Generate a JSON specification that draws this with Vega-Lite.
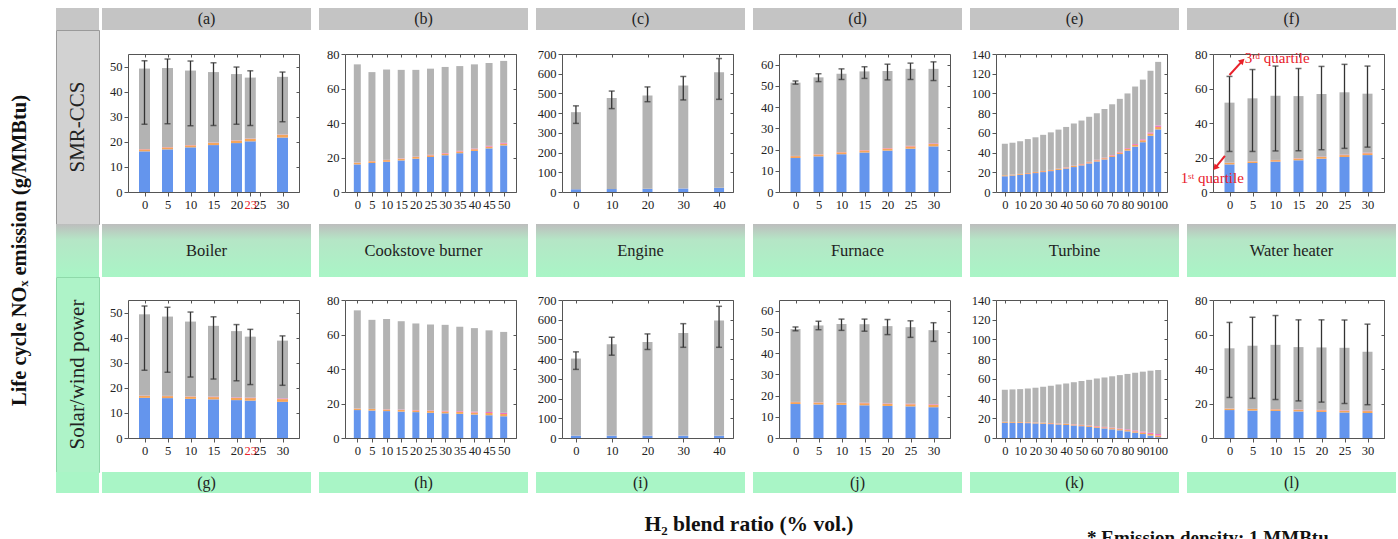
{
"$schema": "https://vega.github.io/schema/vega-lite/v6.json",
"padding": {"left": 0, "top": 8, "right": 0, "bottom": 0},
"background": "white",
"bounds": "full",
"spacing": 15,
"config": {
 "font": "Liberation Serif",
 "view": {"stroke": null, "fill": "white"},
 "axis": {"labelFont": "Liberation Serif", "labelFontSize": 12.5, "labelColor": "#222", "domainColor": "#555", "tickColor": "#555", "grid": false, "tickSize": 4, "labelPadding": 2, "titleFont": "Liberation Serif"}
},
"datasets": {
 "notes": [
  {"t": "3ʳᵈ quartile", "x": 3.3, "y": 77.5},
  {"t": "1ˢᵗ quartile", "x": -10.6, "y": 8}
 ],
 "arrows": [
  {"id": "q3", "x0": 0, "y0": 67.8, "x1": 2.8, "y1": 76},
  {"id": "q1", "x0": -1, "y0": 21, "x1": -3.1, "y1": 14}
 ],
 "bars": [
  {"p":"a","x":0,"s1":16.2,"s2":0.8,"s3":0.1,"s4":32.1,"lo":27,"hi":52.3},
  {"p":"a","x":5,"s1":17.0,"s2":0.8,"s3":0.1,"s4":31.5,"lo":27.2,"hi":53},
  {"p":"a","x":10,"s1":17.8,"s2":0.8,"s3":0.1,"s4":29.7,"lo":26.4,"hi":52.2},
  {"p":"a","x":15,"s1":18.7,"s2":0.9,"s3":0.1,"s4":28.1,"lo":26.5,"hi":51.5},
  {"p":"a","x":20,"s1":19.5,"s2":1.0,"s3":0.1,"s4":26.4,"lo":27,"hi":49.8},
  {"p":"a","x":23,"s1":20.2,"s2":1.0,"s3":0.1,"s4":24.3,"lo":26.5,"hi":48.3},
  {"p":"a","x":30,"s1":21.7,"s2":1.1,"s3":0.1,"s4":23.0,"lo":28,"hi":47.8},
  {"p":"b","x":0,"s1":16.0,"s2":1.0,"s3":0.1,"s4":56.9},
  {"p":"b","x":5,"s1":16.8,"s2":1.0,"s3":0.1,"s4":51.6},
  {"p":"b","x":10,"s1":17.5,"s2":1.0,"s3":0.15,"s4":52.35},
  {"p":"b","x":15,"s1":18.3,"s2":1.0,"s3":0.2,"s4":51.3},
  {"p":"b","x":20,"s1":19.3,"s2":1.0,"s3":0.2,"s4":50.3},
  {"p":"b","x":25,"s1":20.3,"s2":1.0,"s3":0.25,"s4":49.95},
  {"p":"b","x":30,"s1":21.3,"s2":1.0,"s3":0.3,"s4":49.9},
  {"p":"b","x":35,"s1":22.5,"s2":1.0,"s3":0.35,"s4":49.15},
  {"p":"b","x":40,"s1":23.8,"s2":1.0,"s3":0.4,"s4":48.8},
  {"p":"b","x":45,"s1":25.3,"s2":1.0,"s3":0.45,"s4":48.05},
  {"p":"b","x":50,"s1":27.0,"s2":1.0,"s3":0.5,"s4":47.5},
  {"p":"c","x":0,"s1":14,"s2":0.5,"s3":0,"s4":390.5,"lo":348,"hi":437},
  {"p":"c","x":10,"s1":15,"s2":0.5,"s3":0,"s4":461.5,"lo":423,"hi":512},
  {"p":"c","x":20,"s1":16,"s2":0.5,"s3":0,"s4":473.5,"lo":458,"hi":533},
  {"p":"c","x":30,"s1":18,"s2":0.5,"s3":0,"s4":521.5,"lo":467,"hi":586},
  {"p":"c","x":40,"s1":21,"s2":0.5,"s3":0,"s4":585.5,"lo":470,"hi":677},
  {"p":"d","x":0,"s1":16,"s2":0.9,"s3":0.1,"s4":34.5,"lo":50.8,"hi":52.3},
  {"p":"d","x":5,"s1":16.8,"s2":0.9,"s3":0.1,"s4":36.2,"lo":52,"hi":55.7},
  {"p":"d","x":10,"s1":17.8,"s2":0.9,"s3":0.1,"s4":36.9,"lo":53,"hi":58},
  {"p":"d","x":15,"s1":18.6,"s2":1.0,"s3":0.15,"s4":37.05,"lo":53.5,"hi":59},
  {"p":"d","x":20,"s1":19.5,"s2":1.0,"s3":0.2,"s4":36.3,"lo":52.8,"hi":60.2},
  {"p":"d","x":25,"s1":20.4,"s2":1.1,"s3":0.25,"s4":36.25,"lo":53,"hi":60.7},
  {"p":"d","x":30,"s1":21.5,"s2":1.1,"s3":0.3,"s4":35.1,"lo":52.5,"hi":61.3},
  {"p":"e","x":0,"s1":16,"s2":0.9,"s3":0.1,"s4":32},
  {"p":"e","x":5,"s1":16.7,"s2":0.9,"s3":0.1,"s4":32.3},
  {"p":"e","x":10,"s1":17.4,"s2":0.9,"s3":0.1,"s4":33.1},
  {"p":"e","x":15,"s1":18.2,"s2":0.9,"s3":0.15,"s4":34.45},
  {"p":"e","x":20,"s1":19.2,"s2":1,"s3":0.15,"s4":35.15},
  {"p":"e","x":25,"s1":20.2,"s2":1,"s3":0.2,"s4":36.6},
  {"p":"e","x":30,"s1":21.2,"s2":1,"s3":0.2,"s4":38.1},
  {"p":"e","x":35,"s1":22.4,"s2":1,"s3":0.25,"s4":39.65},
  {"p":"e","x":40,"s1":23.8,"s2":1,"s3":0.3,"s4":40.9},
  {"p":"e","x":45,"s1":25.3,"s2":1.1,"s3":0.3,"s4":42.8},
  {"p":"e","x":50,"s1":27,"s2":1.1,"s3":0.35,"s4":44.05},
  {"p":"e","x":55,"s1":29,"s2":1.2,"s3":0.4,"s4":45.7},
  {"p":"e","x":60,"s1":31,"s2":1.2,"s3":0.45,"s4":47.35},
  {"p":"e","x":65,"s1":33,"s2":1.3,"s3":0.5,"s4":49.4},
  {"p":"e","x":70,"s1":35.5,"s2":1.4,"s3":0.6,"s4":51.5},
  {"p":"e","x":75,"s1":38.5,"s2":1.5,"s3":0.7,"s4":53.8},
  {"p":"e","x":80,"s1":42,"s2":1.6,"s3":0.8,"s4":55.6},
  {"p":"e","x":85,"s1":46,"s2":1.8,"s3":0.9,"s4":58.3},
  {"p":"e","x":90,"s1":50.5,"s2":2,"s3":1.0,"s4":60.5},
  {"p":"e","x":95,"s1":57,"s2":2.2,"s3":1.2,"s4":62.6},
  {"p":"e","x":100,"s1":63.5,"s2":2.5,"s3":1.5,"s4":64.5},
  {"p":"f","x":0,"s1":16,"s2":0.9,"s3":0.1,"s4":34.8,"lo":23.5,"hi":67},
  {"p":"f","x":5,"s1":16.8,"s2":0.9,"s3":0.1,"s4":36.5,"lo":23.5,"hi":71},
  {"p":"f","x":10,"s1":17.6,"s2":0.9,"s3":0.1,"s4":37.2,"lo":23.8,"hi":73},
  {"p":"f","x":15,"s1":18.4,"s2":1,"s3":0.15,"s4":36.05,"lo":23.9,"hi":71.6},
  {"p":"f","x":20,"s1":19.3,"s2":1,"s3":0.2,"s4":36.3,"lo":24.5,"hi":72.8},
  {"p":"f","x":25,"s1":20.3,"s2":1.1,"s3":0.25,"s4":36.15,"lo":25.3,"hi":74},
  {"p":"f","x":30,"s1":21.4,"s2":1.1,"s3":0.3,"s4":34.2,"lo":26,"hi":73},
  {"p":"g","x":0,"s1":16,"s2":0.8,"s3":0.1,"s4":32.4,"lo":27,"hi":52.6},
  {"p":"g","x":5,"s1":15.9,"s2":0.8,"s3":0.1,"s4":31.6,"lo":26.2,"hi":52.1},
  {"p":"g","x":10,"s1":15.6,"s2":0.9,"s3":0.1,"s4":29.8,"lo":24.3,"hi":50.2},
  {"p":"g","x":15,"s1":15.4,"s2":0.9,"s3":0.2,"s4":28.2,"lo":23.5,"hi":48.3},
  {"p":"g","x":20,"s1":15.1,"s2":0.9,"s3":0.2,"s4":26.4,"lo":22.8,"hi":45.2},
  {"p":"g","x":23,"s1":14.9,"s2":1.0,"s3":0.2,"s4":24.3,"lo":21.3,"hi":43.3},
  {"p":"g","x":30,"s1":14.4,"s2":1.1,"s3":0.3,"s4":23.0,"lo":21,"hi":40.7},
  {"p":"h","x":0,"s1":16.2,"s2":0.8,"s3":0.1,"s4":56.9},
  {"p":"h","x":5,"s1":15.9,"s2":0.9,"s3":0.1,"s4":51.6},
  {"p":"h","x":10,"s1":15.6,"s2":0.9,"s3":0.15,"s4":52.35},
  {"p":"h","x":15,"s1":15.3,"s2":1,"s3":0.2,"s4":51.2},
  {"p":"h","x":20,"s1":15,"s2":1,"s3":0.25,"s4":50.15},
  {"p":"h","x":25,"s1":14.6,"s2":1.1,"s3":0.3,"s4":49.8},
  {"p":"h","x":30,"s1":14.3,"s2":1.1,"s3":0.35,"s4":49.85},
  {"p":"h","x":35,"s1":14,"s2":1.2,"s3":0.4,"s4":48.9},
  {"p":"h","x":40,"s1":13.6,"s2":1.2,"s3":0.5,"s4":48.4},
  {"p":"h","x":45,"s1":13.2,"s2":1.3,"s3":0.6,"s4":47.3},
  {"p":"h","x":50,"s1":12.6,"s2":1.3,"s3":0.7,"s4":46.9},
  {"p":"i","x":0,"s1":12,"s2":0.5,"s3":0,"s4":390.5,"lo":348,"hi":437},
  {"p":"i","x":10,"s1":12,"s2":0.5,"s3":0,"s4":462.5,"lo":420,"hi":511},
  {"p":"i","x":20,"s1":12,"s2":0.5,"s3":0,"s4":474.5,"lo":449,"hi":528},
  {"p":"i","x":30,"s1":12,"s2":0.5,"s3":0,"s4":519.5,"lo":460,"hi":580},
  {"p":"i","x":40,"s1":12,"s2":0.5,"s3":0,"s4":583.5,"lo":460,"hi":668},
  {"p":"j","x":0,"s1":16,"s2":0.9,"s3":0.1,"s4":34.3,"lo":50.5,"hi":52.3},
  {"p":"j","x":5,"s1":15.8,"s2":0.9,"s3":0.1,"s4":36.2,"lo":51,"hi":55},
  {"p":"j","x":10,"s1":15.6,"s2":0.9,"s3":0.15,"s4":37.05,"lo":50.7,"hi":56},
  {"p":"j","x":15,"s1":15.4,"s2":1,"s3":0.2,"s4":37.0,"lo":50.3,"hi":56},
  {"p":"j","x":20,"s1":15.1,"s2":1,"s3":0.2,"s4":36.4,"lo":48.7,"hi":55.8},
  {"p":"j","x":25,"s1":14.9,"s2":1,"s3":0.25,"s4":36.05,"lo":47.4,"hi":55.2},
  {"p":"j","x":30,"s1":14.5,"s2":1.1,"s3":0.3,"s4":34.9,"lo":45.5,"hi":54.3},
  {"p":"k","x":0,"s1":15.5,"s2":0.8,"s3":0.1,"s4":32.6},
  {"p":"k","x":5,"s1":15.4,"s2":0.8,"s3":0.1,"s4":33},
  {"p":"k","x":10,"s1":15.3,"s2":0.8,"s3":0.1,"s4":33.4},
  {"p":"k","x":15,"s1":15.1,"s2":0.8,"s3":0.15,"s4":34.15},
  {"p":"k","x":20,"s1":14.8,"s2":0.9,"s3":0.15,"s4":35.15},
  {"p":"k","x":25,"s1":14.5,"s2":0.9,"s3":0.2,"s4":36.4},
  {"p":"k","x":30,"s1":14.1,"s2":0.9,"s3":0.2,"s4":37.8},
  {"p":"k","x":35,"s1":13.7,"s2":0.9,"s3":0.25,"s4":39.45},
  {"p":"k","x":40,"s1":13.2,"s2":1,"s3":0.3,"s4":40.8},
  {"p":"k","x":45,"s1":12.7,"s2":1,"s3":0.3,"s4":42.6},
  {"p":"k","x":50,"s1":12,"s2":1,"s3":0.35,"s4":44.45},
  {"p":"k","x":55,"s1":11.3,"s2":1,"s3":0.4,"s4":46.3},
  {"p":"k","x":60,"s1":10.5,"s2":1.1,"s3":0.45,"s4":48.25},
  {"p":"k","x":65,"s1":9.7,"s2":1.1,"s3":0.5,"s4":50.1},
  {"p":"k","x":70,"s1":8.8,"s2":1.2,"s3":0.6,"s4":52},
  {"p":"k","x":75,"s1":7.8,"s2":1.2,"s3":0.7,"s4":54.1},
  {"p":"k","x":80,"s1":6.7,"s2":1.3,"s3":0.8,"s4":56.2},
  {"p":"k","x":85,"s1":5.4,"s2":1.4,"s3":0.9,"s4":58.5},
  {"p":"k","x":90,"s1":4,"s2":1.5,"s3":1.0,"s4":60.8},
  {"p":"k","x":95,"s1":2.5,"s2":1.6,"s3":1.2,"s4":63},
  {"p":"k","x":100,"s1":0.8,"s2":1.7,"s3":1.5,"s4":65},
  {"p":"l","x":0,"s1":16.2,"s2":0.8,"s3":0.1,"s4":34.9,"lo":23.5,"hi":67},
  {"p":"l","x":5,"s1":15.9,"s2":0.9,"s3":0.1,"s4":36.6,"lo":23,"hi":70},
  {"p":"l","x":10,"s1":15.7,"s2":0.9,"s3":0.1,"s4":37.3,"lo":22.3,"hi":71},
  {"p":"l","x":15,"s1":15.4,"s2":1,"s3":0.15,"s4":36.15,"lo":21.5,"hi":68.5},
  {"p":"l","x":20,"s1":15.1,"s2":1,"s3":0.2,"s4":36.2,"lo":20.8,"hi":68.5},
  {"p":"l","x":25,"s1":14.8,"s2":1,"s3":0.25,"s4":36.25,"lo":20,"hi":68.4},
  {"p":"l","x":30,"s1":14.5,"s2":1.1,"s3":0.3,"s4":34.1,"lo":19.3,"hi":66}
 ]
},
"hconcat": [
 {"width": 40, "height": 485, "data": {"values": [{"t": "Life cycle NOₓ emission (g/MMBtu)"}]}, "mark": {"type": "text", "angle": 270, "fontSize": 20.5, "fontWeight": "bold", "color": "#111"}, "encoding": {"text": {"field": "t"}}},
 {"hconcat": [
  {"vconcat": [
   {"width": 43, "height": 22, "view": {"fill": "#c6c6c6", "stroke": null}, "data": {"values": [{"t": ""}]}, "mark": {"type": "text"}, "encoding": {"text": {"field": "t"}}},
   {"width": 43, "height": 194, "view": {"fill": "#d2d2d2", "stroke": "#9a9a9a"}, "data": {"values": [{"t": "SMR-CCS"}]}, "mark": {"type": "text", "angle": 270, "fontSize": 21, "color": "#222"}, "encoding": {"text": {"field": "t"}}},
   {"width": 43, "height": 53, "view": {"fill": {"gradient": "linear", "x1": 0, "y1": 0, "x2": 0, "y2": 1, "stops": [{"offset": 0, "color": "#bdbdbd"}, {"offset": 0.3, "color": "#b5e6c6"}, {"offset": 1, "color": "#a9f5c6"}]}, "stroke": null}, "data": {"values": [{"t": ""}]}, "mark": {"type": "text"}, "encoding": {"text": {"field": "t"}}},
   {"width": 43, "height": 195, "view": {"fill": "#aef3c8", "stroke": "#8fd9aa"}, "data": {"values": [{"t": "Solar/wind power"}]}, "mark": {"type": "text", "angle": 270, "fontSize": 21, "color": "#222"}, "encoding": {"text": {"field": "t"}}},
   {"width": 43, "height": 21, "view": {"fill": "#a9f5c6", "stroke": null}, "data": {"values": [{"t": ""}]}, "mark": {"type": "text"}, "encoding": {"text": {"field": "t"}}}
  ], "spacing": 0, "bounds": "flush"},
  {"vconcat": [
   {"concat": [
    {"width": 209, "height": 22, "view": {"fill": "#c4c4c4", "stroke": null}, "data": {"values": [{"t": "(a)"}]}, "mark": {"type": "text", "fontSize": 16, "color": "#222"}, "encoding": {"text": {"field": "t"}}},
    {"width": 209, "height": 22, "view": {"fill": "#c4c4c4", "stroke": null}, "data": {"values": [{"t": "(b)"}]}, "mark": {"type": "text", "fontSize": 16, "color": "#222"}, "encoding": {"text": {"field": "t"}}},
    {"width": 209, "height": 22, "view": {"fill": "#c4c4c4", "stroke": null}, "data": {"values": [{"t": "(c)"}]}, "mark": {"type": "text", "fontSize": 16, "color": "#222"}, "encoding": {"text": {"field": "t"}}},
    {"width": 209, "height": 22, "view": {"fill": "#c4c4c4", "stroke": null}, "data": {"values": [{"t": "(d)"}]}, "mark": {"type": "text", "fontSize": 16, "color": "#222"}, "encoding": {"text": {"field": "t"}}},
    {"width": 209, "height": 22, "view": {"fill": "#c4c4c4", "stroke": null}, "data": {"values": [{"t": "(e)"}]}, "mark": {"type": "text", "fontSize": 16, "color": "#222"}, "encoding": {"text": {"field": "t"}}},
    {"width": 209, "height": 22, "view": {"fill": "#c4c4c4", "stroke": null}, "data": {"values": [{"t": "(f)"}]}, "mark": {"type": "text", "fontSize": 16, "color": "#222"}, "encoding": {"text": {"field": "t"}}},

    {"width": 209, "height": 194, "view": {"fill": "white", "stroke": null}, "data": {"name": "bars"},
     "layer": [
      {"transform": [{"filter": "datum.p == 'a'"}, {"fold": ["s1","s2","s3","s4"], "as": ["c","v"]}], "mark": {"type": "bar", "size": 11},
       "encoding": {
        "x": {"field": "x", "type": "quantitative", "scale": {"domain": [-2.5,32.5], "range": [26,197], "nice": false, "zero": false}, "axis": {"orient": "bottom", "offset": -32, "values": [0,5,10,15,20,23,25,30], "title": null, "labelOverlap": false, "labelColor": {"condition": {"test": "datum.value == 23", "value": "#e8202a"}, "value": "#222"}}},
        "y": {"field": "v", "type": "quantitative", "stack": "zero", "scale": {"domain": [0,55], "range": [162,24], "nice": false}, "axis": {"orient": "left", "offset": -26, "values": [0,10,20,30,40,50], "title": null}},
        "color": {"field": "c", "type": "nominal", "scale": {"domain": ["s1","s2","s3","s4"], "range": ["#6495ed","#f5a55a","#ee6fc0","#b3b3b3"]}, "legend": null},
        "order": {"field": "c", "sort": "ascending"}}},
      {"transform": [{"filter": "datum.p == 'a' && isValid(datum.lo)"}], "mark": {"type": "rule", "color": "#333", "strokeWidth": 1.3}, "encoding": {"x": {"field": "x", "type": "quantitative", "axis": null}, "y": {"field": "lo", "type": "quantitative", "axis": null}, "y2": {"field": "hi"}}},
      {"transform": [{"filter": "datum.p == 'a' && isValid(datum.lo)"}], "mark": {"type": "tick", "orient": "horizontal", "size": 6, "thickness": 1.5, "color": "#333"}, "encoding": {"x": {"field": "x", "type": "quantitative", "axis": null}, "y": {"field": "lo", "type": "quantitative", "axis": null}}},
      {"transform": [{"filter": "datum.p == 'a' && isValid(datum.hi)"}], "mark": {"type": "tick", "orient": "horizontal", "size": 6, "thickness": 1.5, "color": "#333"}, "encoding": {"x": {"field": "x", "type": "quantitative", "axis": null}, "y": {"field": "hi", "type": "quantitative", "axis": null}}},
      {"transform": [{"filter": "datum.p == 'a'"}], "mark": {"type": "point", "opacity": 0}, "encoding": {"x": {"field": "x", "type": "quantitative", "axis": {"orient": "top", "offset": -24, "labels": false, "values": [0,5,10,15,20,25,30], "tickSize": -3, "title": null}}, "y": {"field": "s1", "type": "quantitative", "axis": {"orient": "right", "offset": -12, "labels": false, "values": [0,10,20,30,40,50], "tickSize": -3, "title": null}}}}
     ],
     "resolve": {"axis": {"x": "independent", "y": "independent"}}},

    {"width": 209, "height": 194, "view": {"fill": "white", "stroke": null}, "data": {"name": "bars"},
     "layer": [
      {"transform": [{"filter": "datum.p == 'b'"}, {"fold": ["s1","s2","s3","s4"], "as": ["c","v"]}], "mark": {"type": "bar", "size": 7},
       "encoding": {
        "x": {"field": "x", "type": "quantitative", "scale": {"domain": [-2.5,52.5], "range": [26,197], "nice": false, "zero": false}, "axis": {"orient": "bottom", "offset": -32, "values": [0,5,10,15,20,25,30,35,40,45,50], "title": null, "labelOverlap": false}},
        "y": {"field": "v", "type": "quantitative", "stack": "zero", "scale": {"domain": [0,80], "range": [162,24], "nice": false}, "axis": {"orient": "left", "offset": -26, "values": [0,20,40,60,80], "title": null}},
        "color": {"field": "c", "type": "nominal", "scale": {"domain": ["s1","s2","s3","s4"], "range": ["#6495ed","#f5a55a","#ee6fc0","#b3b3b3"]}, "legend": null},
        "order": {"field": "c", "sort": "ascending"}}},
      {"transform": [{"filter": "datum.p == 'b'"}], "mark": {"type": "point", "opacity": 0}, "encoding": {"x": {"field": "x", "type": "quantitative", "axis": {"orient": "top", "offset": -24, "labels": false, "values": [0,5,10,15,20,25,30,35,40,45,50], "tickSize": -3, "title": null}}, "y": {"field": "s1", "type": "quantitative", "axis": {"orient": "right", "offset": -12, "labels": false, "values": [0,20,40,60,80], "tickSize": -3, "title": null}}}}
     ],
     "resolve": {"axis": {"x": "independent", "y": "independent"}}},

    {"width": 209, "height": 194, "view": {"fill": "white", "stroke": null}, "data": {"name": "bars"},
     "layer": [
      {"transform": [{"filter": "datum.p == 'c'"}, {"fold": ["s1","s2","s3","s4"], "as": ["c","v"]}], "mark": {"type": "bar", "size": 10},
       "encoding": {
        "x": {"field": "x", "type": "quantitative", "scale": {"domain": [-2.5,42.5], "range": [26,197], "nice": false, "zero": false}, "axis": {"orient": "bottom", "offset": -32, "values": [0,10,20,30,40], "title": null, "labelOverlap": false}},
        "y": {"field": "v", "type": "quantitative", "stack": "zero", "scale": {"domain": [0,700], "range": [162,24], "nice": false}, "axis": {"orient": "left", "offset": -26, "values": [0,100,200,300,400,500,600,700], "title": null}},
        "color": {"field": "c", "type": "nominal", "scale": {"domain": ["s1","s2","s3","s4"], "range": ["#6495ed","#f5a55a","#ee6fc0","#b3b3b3"]}, "legend": null},
        "order": {"field": "c", "sort": "ascending"}}},
      {"transform": [{"filter": "datum.p == 'c' && isValid(datum.lo)"}], "mark": {"type": "rule", "color": "#333", "strokeWidth": 1.3}, "encoding": {"x": {"field": "x", "type": "quantitative", "axis": null}, "y": {"field": "lo", "type": "quantitative", "axis": null}, "y2": {"field": "hi"}}},
      {"transform": [{"filter": "datum.p == 'c' && isValid(datum.lo)"}], "mark": {"type": "tick", "orient": "horizontal", "size": 6, "thickness": 1.5, "color": "#333"}, "encoding": {"x": {"field": "x", "type": "quantitative", "axis": null}, "y": {"field": "lo", "type": "quantitative", "axis": null}}},
      {"transform": [{"filter": "datum.p == 'c' && isValid(datum.hi)"}], "mark": {"type": "tick", "orient": "horizontal", "size": 6, "thickness": 1.5, "color": "#333"}, "encoding": {"x": {"field": "x", "type": "quantitative", "axis": null}, "y": {"field": "hi", "type": "quantitative", "axis": null}}},
      {"transform": [{"filter": "datum.p == 'c'"}], "mark": {"type": "point", "opacity": 0}, "encoding": {"x": {"field": "x", "type": "quantitative", "axis": {"orient": "top", "offset": -24, "labels": false, "values": [0,10,20,30,40], "tickSize": -3, "title": null}}, "y": {"field": "s1", "type": "quantitative", "axis": {"orient": "right", "offset": -12, "labels": false, "values": [0,100,200,300,400,500,600,700], "tickSize": -3, "title": null}}}}
     ],
     "resolve": {"axis": {"x": "independent", "y": "independent"}}},

    {"width": 209, "height": 194, "view": {"fill": "white", "stroke": null}, "data": {"name": "bars"},
     "layer": [
      {"transform": [{"filter": "datum.p == 'd'"}, {"fold": ["s1","s2","s3","s4"], "as": ["c","v"]}], "mark": {"type": "bar", "size": 10},
       "encoding": {
        "x": {"field": "x", "type": "quantitative", "scale": {"domain": [-2.5,32.5], "range": [26,197], "nice": false, "zero": false}, "axis": {"orient": "bottom", "offset": -32, "values": [0,5,10,15,20,25,30], "title": null, "labelOverlap": false}},
        "y": {"field": "v", "type": "quantitative", "stack": "zero", "scale": {"domain": [0,65], "range": [162,24], "nice": false}, "axis": {"orient": "left", "offset": -26, "values": [0,10,20,30,40,50,60], "title": null}},
        "color": {"field": "c", "type": "nominal", "scale": {"domain": ["s1","s2","s3","s4"], "range": ["#6495ed","#f5a55a","#ee6fc0","#b3b3b3"]}, "legend": null},
        "order": {"field": "c", "sort": "ascending"}}},
      {"transform": [{"filter": "datum.p == 'd' && isValid(datum.lo)"}], "mark": {"type": "rule", "color": "#333", "strokeWidth": 1.3}, "encoding": {"x": {"field": "x", "type": "quantitative", "axis": null}, "y": {"field": "lo", "type": "quantitative", "axis": null}, "y2": {"field": "hi"}}},
      {"transform": [{"filter": "datum.p == 'd' && isValid(datum.lo)"}], "mark": {"type": "tick", "orient": "horizontal", "size": 6, "thickness": 1.5, "color": "#333"}, "encoding": {"x": {"field": "x", "type": "quantitative", "axis": null}, "y": {"field": "lo", "type": "quantitative", "axis": null}}},
      {"transform": [{"filter": "datum.p == 'd' && isValid(datum.hi)"}], "mark": {"type": "tick", "orient": "horizontal", "size": 6, "thickness": 1.5, "color": "#333"}, "encoding": {"x": {"field": "x", "type": "quantitative", "axis": null}, "y": {"field": "hi", "type": "quantitative", "axis": null}}},
      {"transform": [{"filter": "datum.p == 'd'"}], "mark": {"type": "point", "opacity": 0}, "encoding": {"x": {"field": "x", "type": "quantitative", "axis": {"orient": "top", "offset": -24, "labels": false, "values": [0,5,10,15,20,25,30], "tickSize": -3, "title": null}}, "y": {"field": "s1", "type": "quantitative", "axis": {"orient": "right", "offset": -12, "labels": false, "values": [0,10,20,30,40,50,60], "tickSize": -3, "title": null}}}}
     ],
     "resolve": {"axis": {"x": "independent", "y": "independent"}}},

    {"width": 209, "height": 194, "view": {"fill": "white", "stroke": null}, "data": {"name": "bars"},
     "layer": [
      {"transform": [{"filter": "datum.p == 'e'"}, {"fold": ["s1","s2","s3","s4"], "as": ["c","v"]}], "mark": {"type": "bar", "size": 6},
       "encoding": {
        "x": {"field": "x", "type": "quantitative", "scale": {"domain": [-2.5,102.5], "range": [26,197], "nice": false, "zero": false}, "axis": {"orient": "bottom", "offset": -32, "values": [0,10,20,30,40,50,60,70,80,90,100], "title": null, "labelOverlap": false}},
        "y": {"field": "v", "type": "quantitative", "stack": "zero", "scale": {"domain": [0,140], "range": [162,24], "nice": false}, "axis": {"orient": "left", "offset": -26, "values": [0,20,40,60,80,100,120,140], "title": null}},
        "color": {"field": "c", "type": "nominal", "scale": {"domain": ["s1","s2","s3","s4"], "range": ["#6495ed","#f5a55a","#ee6fc0","#b3b3b3"]}, "legend": null},
        "order": {"field": "c", "sort": "ascending"}}},
      {"transform": [{"filter": "datum.p == 'e'"}], "mark": {"type": "point", "opacity": 0}, "encoding": {"x": {"field": "x", "type": "quantitative", "axis": {"orient": "top", "offset": -24, "labels": false, "values": [0,10,20,30,40,50,60,70,80,90,100], "tickSize": -3, "title": null}}, "y": {"field": "s1", "type": "quantitative", "axis": {"orient": "right", "offset": -12, "labels": false, "values": [0,20,40,60,80,100,120,140], "tickSize": -3, "title": null}}}}
     ],
     "resolve": {"axis": {"x": "independent", "y": "independent"}}},

    {"width": 209, "height": 194, "view": {"fill": "white", "stroke": null}, "data": {"name": "bars"},
     "layer": [
      {"transform": [{"filter": "datum.p == 'f'"}, {"fold": ["s1","s2","s3","s4"], "as": ["c","v"]}], "mark": {"type": "bar", "size": 10},
       "encoding": {
        "x": {"field": "x", "type": "quantitative", "scale": {"domain": [-2.5,32.5], "range": [26,197], "nice": false, "zero": false}, "axis": {"orient": "bottom", "offset": -32, "values": [0,5,10,15,20,25,30], "title": null, "labelOverlap": false}},
        "y": {"field": "v", "type": "quantitative", "stack": "zero", "scale": {"domain": [0,80], "range": [162,24], "nice": false}, "axis": {"orient": "left", "offset": -26, "values": [0,20,40,60,80], "title": null}},
        "color": {"field": "c", "type": "nominal", "scale": {"domain": ["s1","s2","s3","s4"], "range": ["#6495ed","#f5a55a","#ee6fc0","#b3b3b3"]}, "legend": null},
        "order": {"field": "c", "sort": "ascending"}}},
      {"transform": [{"filter": "datum.p == 'f' && isValid(datum.lo)"}], "mark": {"type": "rule", "color": "#333", "strokeWidth": 1.3}, "encoding": {"x": {"field": "x", "type": "quantitative", "axis": null}, "y": {"field": "lo", "type": "quantitative", "axis": null}, "y2": {"field": "hi"}}},
      {"transform": [{"filter": "datum.p == 'f' && isValid(datum.lo)"}], "mark": {"type": "tick", "orient": "horizontal", "size": 6, "thickness": 1.5, "color": "#333"}, "encoding": {"x": {"field": "x", "type": "quantitative", "axis": null}, "y": {"field": "lo", "type": "quantitative", "axis": null}}},
      {"transform": [{"filter": "datum.p == 'f' && isValid(datum.hi)"}], "mark": {"type": "tick", "orient": "horizontal", "size": 6, "thickness": 1.5, "color": "#333"}, "encoding": {"x": {"field": "x", "type": "quantitative", "axis": null}, "y": {"field": "hi", "type": "quantitative", "axis": null}}},
      {"data": {"name": "arrows"}, "mark": {"type": "rule", "color": "#e8202a", "strokeWidth": 2}, "encoding": {"x": {"field": "x0", "type": "quantitative", "axis": null}, "y": {"field": "y0", "type": "quantitative", "axis": null}, "x2": {"field": "x1"}, "y2": {"field": "y1"}}},
      {"data": {"name": "arrows"}, "transform": [{"filter": "datum.id == 'q3'"}], "mark": {"type": "point", "shape": "triangle-up", "angle": 45, "filled": true, "color": "#e8202a", "size": 45, "opacity": 1}, "encoding": {"x": {"field": "x1", "type": "quantitative", "axis": null}, "y": {"field": "y1", "type": "quantitative", "axis": null}}},
      {"data": {"name": "arrows"}, "transform": [{"filter": "datum.id == 'q1'"}], "mark": {"type": "point", "shape": "triangle-up", "angle": 220, "filled": true, "color": "#e8202a", "size": 45, "opacity": 1}, "encoding": {"x": {"field": "x1", "type": "quantitative", "axis": null}, "y": {"field": "y1", "type": "quantitative", "axis": null}}},
      {"data": {"name": "notes"}, "mark": {"type": "text", "color": "#e8202a", "fontSize": 15, "align": "left", "baseline": "middle"}, "encoding": {"x": {"field": "x", "type": "quantitative", "axis": null}, "y": {"field": "y", "type": "quantitative", "axis": null}, "text": {"field": "t"}}},
      {"transform": [{"filter": "datum.p == 'f'"}], "mark": {"type": "point", "opacity": 0}, "encoding": {"x": {"field": "x", "type": "quantitative", "axis": {"orient": "top", "offset": -24, "labels": false, "values": [0,5,10,15,20,25,30], "tickSize": -3, "title": null}}, "y": {"field": "s1", "type": "quantitative", "axis": {"orient": "right", "offset": -12, "labels": false, "values": [0,20,40,60,80], "tickSize": -3, "title": null}}}}
     ],
     "resolve": {"axis": {"x": "independent", "y": "independent"}}},

    {"width": 209, "height": 53, "view": {"fill": {"gradient": "linear", "x1": 0, "y1": 0, "x2": 0, "y2": 1, "stops": [{"offset": 0, "color": "#bdbdbd"}, {"offset": 0.3, "color": "#b5e6c6"}, {"offset": 1, "color": "#a9f5c6"}]}, "stroke": null}, "data": {"values": [{"t": "Boiler"}]}, "mark": {"type": "text", "fontSize": 16.5, "color": "#222"}, "encoding": {"text": {"field": "t"}}},
    {"width": 209, "height": 53, "view": {"fill": {"gradient": "linear", "x1": 0, "y1": 0, "x2": 0, "y2": 1, "stops": [{"offset": 0, "color": "#bdbdbd"}, {"offset": 0.3, "color": "#b5e6c6"}, {"offset": 1, "color": "#a9f5c6"}]}, "stroke": null}, "data": {"values": [{"t": "Cookstove burner"}]}, "mark": {"type": "text", "fontSize": 16.5, "color": "#222"}, "encoding": {"text": {"field": "t"}}},
    {"width": 209, "height": 53, "view": {"fill": {"gradient": "linear", "x1": 0, "y1": 0, "x2": 0, "y2": 1, "stops": [{"offset": 0, "color": "#bdbdbd"}, {"offset": 0.3, "color": "#b5e6c6"}, {"offset": 1, "color": "#a9f5c6"}]}, "stroke": null}, "data": {"values": [{"t": "Engine"}]}, "mark": {"type": "text", "fontSize": 16.5, "color": "#222"}, "encoding": {"text": {"field": "t"}}},
    {"width": 209, "height": 53, "view": {"fill": {"gradient": "linear", "x1": 0, "y1": 0, "x2": 0, "y2": 1, "stops": [{"offset": 0, "color": "#bdbdbd"}, {"offset": 0.3, "color": "#b5e6c6"}, {"offset": 1, "color": "#a9f5c6"}]}, "stroke": null}, "data": {"values": [{"t": "Furnace"}]}, "mark": {"type": "text", "fontSize": 16.5, "color": "#222"}, "encoding": {"text": {"field": "t"}}},
    {"width": 209, "height": 53, "view": {"fill": {"gradient": "linear", "x1": 0, "y1": 0, "x2": 0, "y2": 1, "stops": [{"offset": 0, "color": "#bdbdbd"}, {"offset": 0.3, "color": "#b5e6c6"}, {"offset": 1, "color": "#a9f5c6"}]}, "stroke": null}, "data": {"values": [{"t": "Turbine"}]}, "mark": {"type": "text", "fontSize": 16.5, "color": "#222"}, "encoding": {"text": {"field": "t"}}},
    {"width": 209, "height": 53, "view": {"fill": {"gradient": "linear", "x1": 0, "y1": 0, "x2": 0, "y2": 1, "stops": [{"offset": 0, "color": "#bdbdbd"}, {"offset": 0.3, "color": "#b5e6c6"}, {"offset": 1, "color": "#a9f5c6"}]}, "stroke": null}, "data": {"values": [{"t": "Water heater"}]}, "mark": {"type": "text", "fontSize": 16.5, "color": "#222"}, "encoding": {"text": {"field": "t"}}},

    {"width": 209, "height": 195, "view": {"fill": "white", "stroke": null}, "data": {"name": "bars"},
     "layer": [
      {"transform": [{"filter": "datum.p == 'g'"}, {"fold": ["s1","s2","s3","s4"], "as": ["c","v"]}], "mark": {"type": "bar", "size": 11},
       "encoding": {
        "x": {"field": "x", "type": "quantitative", "scale": {"domain": [-2.5,32.5], "range": [26,197], "nice": false, "zero": false}, "axis": {"orient": "bottom", "offset": -34, "values": [0,5,10,15,20,23,25,30], "title": null, "labelOverlap": false, "labelColor": {"condition": {"test": "datum.value == 23", "value": "#e8202a"}, "value": "#222"}}},
        "y": {"field": "v", "type": "quantitative", "stack": "zero", "scale": {"domain": [0,55], "range": [161,23], "nice": false}, "axis": {"orient": "left", "offset": -26, "values": [0,10,20,30,40,50], "title": null}},
        "color": {"field": "c", "type": "nominal", "scale": {"domain": ["s1","s2","s3","s4"], "range": ["#6495ed","#f5a55a","#ee6fc0","#b3b3b3"]}, "legend": null},
        "order": {"field": "c", "sort": "ascending"}}},
      {"transform": [{"filter": "datum.p == 'g' && isValid(datum.lo)"}], "mark": {"type": "rule", "color": "#333", "strokeWidth": 1.3}, "encoding": {"x": {"field": "x", "type": "quantitative", "axis": null}, "y": {"field": "lo", "type": "quantitative", "axis": null}, "y2": {"field": "hi"}}},
      {"transform": [{"filter": "datum.p == 'g' && isValid(datum.lo)"}], "mark": {"type": "tick", "orient": "horizontal", "size": 6, "thickness": 1.5, "color": "#333"}, "encoding": {"x": {"field": "x", "type": "quantitative", "axis": null}, "y": {"field": "lo", "type": "quantitative", "axis": null}}},
      {"transform": [{"filter": "datum.p == 'g' && isValid(datum.hi)"}], "mark": {"type": "tick", "orient": "horizontal", "size": 6, "thickness": 1.5, "color": "#333"}, "encoding": {"x": {"field": "x", "type": "quantitative", "axis": null}, "y": {"field": "hi", "type": "quantitative", "axis": null}}},
      {"transform": [{"filter": "datum.p == 'g'"}], "mark": {"type": "point", "opacity": 0}, "encoding": {"x": {"field": "x", "type": "quantitative", "axis": {"orient": "top", "offset": -23, "labels": false, "values": [0,5,10,15,20,25,30], "tickSize": -3, "title": null}}, "y": {"field": "s1", "type": "quantitative", "axis": {"orient": "right", "offset": -12, "labels": false, "values": [0,10,20,30,40,50], "tickSize": -3, "title": null}}}}
     ],
     "resolve": {"axis": {"x": "independent", "y": "independent"}}},

    {"width": 209, "height": 195, "view": {"fill": "white", "stroke": null}, "data": {"name": "bars"},
     "layer": [
      {"transform": [{"filter": "datum.p == 'h'"}, {"fold": ["s1","s2","s3","s4"], "as": ["c","v"]}], "mark": {"type": "bar", "size": 7},
       "encoding": {
        "x": {"field": "x", "type": "quantitative", "scale": {"domain": [-2.5,52.5], "range": [26,197], "nice": false, "zero": false}, "axis": {"orient": "bottom", "offset": -34, "values": [0,5,10,15,20,25,30,35,40,45,50], "title": null, "labelOverlap": false}},
        "y": {"field": "v", "type": "quantitative", "stack": "zero", "scale": {"domain": [0,80], "range": [161,23], "nice": false}, "axis": {"orient": "left", "offset": -26, "values": [0,20,40,60,80], "title": null}},
        "color": {"field": "c", "type": "nominal", "scale": {"domain": ["s1","s2","s3","s4"], "range": ["#6495ed","#f5a55a","#ee6fc0","#b3b3b3"]}, "legend": null},
        "order": {"field": "c", "sort": "ascending"}}},
      {"transform": [{"filter": "datum.p == 'h'"}], "mark": {"type": "point", "opacity": 0}, "encoding": {"x": {"field": "x", "type": "quantitative", "axis": {"orient": "top", "offset": -23, "labels": false, "values": [0,5,10,15,20,25,30,35,40,45,50], "tickSize": -3, "title": null}}, "y": {"field": "s1", "type": "quantitative", "axis": {"orient": "right", "offset": -12, "labels": false, "values": [0,20,40,60,80], "tickSize": -3, "title": null}}}}
     ],
     "resolve": {"axis": {"x": "independent", "y": "independent"}}},

    {"width": 209, "height": 195, "view": {"fill": "white", "stroke": null}, "data": {"name": "bars"},
     "layer": [
      {"transform": [{"filter": "datum.p == 'i'"}, {"fold": ["s1","s2","s3","s4"], "as": ["c","v"]}], "mark": {"type": "bar", "size": 10},
       "encoding": {
        "x": {"field": "x", "type": "quantitative", "scale": {"domain": [-2.5,42.5], "range": [26,197], "nice": false, "zero": false}, "axis": {"orient": "bottom", "offset": -34, "values": [0,10,20,30,40], "title": null, "labelOverlap": false}},
        "y": {"field": "v", "type": "quantitative", "stack": "zero", "scale": {"domain": [0,700], "range": [161,23], "nice": false}, "axis": {"orient": "left", "offset": -26, "values": [0,100,200,300,400,500,600,700], "title": null}},
        "color": {"field": "c", "type": "nominal", "scale": {"domain": ["s1","s2","s3","s4"], "range": ["#6495ed","#f5a55a","#ee6fc0","#b3b3b3"]}, "legend": null},
        "order": {"field": "c", "sort": "ascending"}}},
      {"transform": [{"filter": "datum.p == 'i' && isValid(datum.lo)"}], "mark": {"type": "rule", "color": "#333", "strokeWidth": 1.3}, "encoding": {"x": {"field": "x", "type": "quantitative", "axis": null}, "y": {"field": "lo", "type": "quantitative", "axis": null}, "y2": {"field": "hi"}}},
      {"transform": [{"filter": "datum.p == 'i' && isValid(datum.lo)"}], "mark": {"type": "tick", "orient": "horizontal", "size": 6, "thickness": 1.5, "color": "#333"}, "encoding": {"x": {"field": "x", "type": "quantitative", "axis": null}, "y": {"field": "lo", "type": "quantitative", "axis": null}}},
      {"transform": [{"filter": "datum.p == 'i' && isValid(datum.hi)"}], "mark": {"type": "tick", "orient": "horizontal", "size": 6, "thickness": 1.5, "color": "#333"}, "encoding": {"x": {"field": "x", "type": "quantitative", "axis": null}, "y": {"field": "hi", "type": "quantitative", "axis": null}}},
      {"transform": [{"filter": "datum.p == 'i'"}], "mark": {"type": "point", "opacity": 0}, "encoding": {"x": {"field": "x", "type": "quantitative", "axis": {"orient": "top", "offset": -23, "labels": false, "values": [0,10,20,30,40], "tickSize": -3, "title": null}}, "y": {"field": "s1", "type": "quantitative", "axis": {"orient": "right", "offset": -12, "labels": false, "values": [0,100,200,300,400,500,600,700], "tickSize": -3, "title": null}}}}
     ],
     "resolve": {"axis": {"x": "independent", "y": "independent"}}},

    {"width": 209, "height": 195, "view": {"fill": "white", "stroke": null}, "data": {"name": "bars"},
     "layer": [
      {"transform": [{"filter": "datum.p == 'j'"}, {"fold": ["s1","s2","s3","s4"], "as": ["c","v"]}], "mark": {"type": "bar", "size": 10},
       "encoding": {
        "x": {"field": "x", "type": "quantitative", "scale": {"domain": [-2.5,32.5], "range": [26,197], "nice": false, "zero": false}, "axis": {"orient": "bottom", "offset": -34, "values": [0,5,10,15,20,25,30], "title": null, "labelOverlap": false}},
        "y": {"field": "v", "type": "quantitative", "stack": "zero", "scale": {"domain": [0,65], "range": [161,23], "nice": false}, "axis": {"orient": "left", "offset": -26, "values": [0,10,20,30,40,50,60], "title": null}},
        "color": {"field": "c", "type": "nominal", "scale": {"domain": ["s1","s2","s3","s4"], "range": ["#6495ed","#f5a55a","#ee6fc0","#b3b3b3"]}, "legend": null},
        "order": {"field": "c", "sort": "ascending"}}},
      {"transform": [{"filter": "datum.p == 'j' && isValid(datum.lo)"}], "mark": {"type": "rule", "color": "#333", "strokeWidth": 1.3}, "encoding": {"x": {"field": "x", "type": "quantitative", "axis": null}, "y": {"field": "lo", "type": "quantitative", "axis": null}, "y2": {"field": "hi"}}},
      {"transform": [{"filter": "datum.p == 'j' && isValid(datum.lo)"}], "mark": {"type": "tick", "orient": "horizontal", "size": 6, "thickness": 1.5, "color": "#333"}, "encoding": {"x": {"field": "x", "type": "quantitative", "axis": null}, "y": {"field": "lo", "type": "quantitative", "axis": null}}},
      {"transform": [{"filter": "datum.p == 'j' && isValid(datum.hi)"}], "mark": {"type": "tick", "orient": "horizontal", "size": 6, "thickness": 1.5, "color": "#333"}, "encoding": {"x": {"field": "x", "type": "quantitative", "axis": null}, "y": {"field": "hi", "type": "quantitative", "axis": null}}},
      {"transform": [{"filter": "datum.p == 'j'"}], "mark": {"type": "point", "opacity": 0}, "encoding": {"x": {"field": "x", "type": "quantitative", "axis": {"orient": "top", "offset": -23, "labels": false, "values": [0,5,10,15,20,25,30], "tickSize": -3, "title": null}}, "y": {"field": "s1", "type": "quantitative", "axis": {"orient": "right", "offset": -12, "labels": false, "values": [0,10,20,30,40,50,60], "tickSize": -3, "title": null}}}}
     ],
     "resolve": {"axis": {"x": "independent", "y": "independent"}}},

    {"width": 209, "height": 195, "view": {"fill": "white", "stroke": null}, "data": {"name": "bars"},
     "layer": [
      {"transform": [{"filter": "datum.p == 'k'"}, {"fold": ["s1","s2","s3","s4"], "as": ["c","v"]}], "mark": {"type": "bar", "size": 6},
       "encoding": {
        "x": {"field": "x", "type": "quantitative", "scale": {"domain": [-2.5,102.5], "range": [26,197], "nice": false, "zero": false}, "axis": {"orient": "bottom", "offset": -34, "values": [0,10,20,30,40,50,60,70,80,90,100], "title": null, "labelOverlap": false}},
        "y": {"field": "v", "type": "quantitative", "stack": "zero", "scale": {"domain": [0,140], "range": [161,23], "nice": false}, "axis": {"orient": "left", "offset": -26, "values": [0,20,40,60,80,100,120,140], "title": null}},
        "color": {"field": "c", "type": "nominal", "scale": {"domain": ["s1","s2","s3","s4"], "range": ["#6495ed","#f5a55a","#ee6fc0","#b3b3b3"]}, "legend": null},
        "order": {"field": "c", "sort": "ascending"}}},
      {"transform": [{"filter": "datum.p == 'k'"}], "mark": {"type": "point", "opacity": 0}, "encoding": {"x": {"field": "x", "type": "quantitative", "axis": {"orient": "top", "offset": -23, "labels": false, "values": [0,10,20,30,40,50,60,70,80,90,100], "tickSize": -3, "title": null}}, "y": {"field": "s1", "type": "quantitative", "axis": {"orient": "right", "offset": -12, "labels": false, "values": [0,20,40,60,80,100,120,140], "tickSize": -3, "title": null}}}}
     ],
     "resolve": {"axis": {"x": "independent", "y": "independent"}}},

    {"width": 209, "height": 195, "view": {"fill": "white", "stroke": null}, "data": {"name": "bars"},
     "layer": [
      {"transform": [{"filter": "datum.p == 'l'"}, {"fold": ["s1","s2","s3","s4"], "as": ["c","v"]}], "mark": {"type": "bar", "size": 10},
       "encoding": {
        "x": {"field": "x", "type": "quantitative", "scale": {"domain": [-2.5,32.5], "range": [26,197], "nice": false, "zero": false}, "axis": {"orient": "bottom", "offset": -34, "values": [0,5,10,15,20,25,30], "title": null, "labelOverlap": false}},
        "y": {"field": "v", "type": "quantitative", "stack": "zero", "scale": {"domain": [0,80], "range": [161,23], "nice": false}, "axis": {"orient": "left", "offset": -26, "values": [0,20,40,60,80], "title": null}},
        "color": {"field": "c", "type": "nominal", "scale": {"domain": ["s1","s2","s3","s4"], "range": ["#6495ed","#f5a55a","#ee6fc0","#b3b3b3"]}, "legend": null},
        "order": {"field": "c", "sort": "ascending"}}},
      {"transform": [{"filter": "datum.p == 'l' && isValid(datum.lo)"}], "mark": {"type": "rule", "color": "#333", "strokeWidth": 1.3}, "encoding": {"x": {"field": "x", "type": "quantitative", "axis": null}, "y": {"field": "lo", "type": "quantitative", "axis": null}, "y2": {"field": "hi"}}},
      {"transform": [{"filter": "datum.p == 'l' && isValid(datum.lo)"}], "mark": {"type": "tick", "orient": "horizontal", "size": 6, "thickness": 1.5, "color": "#333"}, "encoding": {"x": {"field": "x", "type": "quantitative", "axis": null}, "y": {"field": "lo", "type": "quantitative", "axis": null}}},
      {"transform": [{"filter": "datum.p == 'l' && isValid(datum.hi)"}], "mark": {"type": "tick", "orient": "horizontal", "size": 6, "thickness": 1.5, "color": "#333"}, "encoding": {"x": {"field": "x", "type": "quantitative", "axis": null}, "y": {"field": "hi", "type": "quantitative", "axis": null}}},
      {"transform": [{"filter": "datum.p == 'l'"}], "mark": {"type": "point", "opacity": 0}, "encoding": {"x": {"field": "x", "type": "quantitative", "axis": {"orient": "top", "offset": -23, "labels": false, "values": [0,5,10,15,20,25,30], "tickSize": -3, "title": null}}, "y": {"field": "s1", "type": "quantitative", "axis": {"orient": "right", "offset": -12, "labels": false, "values": [0,20,40,60,80], "tickSize": -3, "title": null}}}}
     ],
     "resolve": {"axis": {"x": "independent", "y": "independent"}}},

    {"width": 209, "height": 21, "view": {"fill": "#a9f5c6", "stroke": null}, "data": {"values": [{"t": "(g)"}]}, "mark": {"type": "text", "fontSize": 16, "color": "#222"}, "encoding": {"text": {"field": "t"}}},
    {"width": 209, "height": 21, "view": {"fill": "#a9f5c6", "stroke": null}, "data": {"values": [{"t": "(h)"}]}, "mark": {"type": "text", "fontSize": 16, "color": "#222"}, "encoding": {"text": {"field": "t"}}},
    {"width": 209, "height": 21, "view": {"fill": "#a9f5c6", "stroke": null}, "data": {"values": [{"t": "(i)"}]}, "mark": {"type": "text", "fontSize": 16, "color": "#222"}, "encoding": {"text": {"field": "t"}}},
    {"width": 209, "height": 21, "view": {"fill": "#a9f5c6", "stroke": null}, "data": {"values": [{"t": "(j)"}]}, "mark": {"type": "text", "fontSize": 16, "color": "#222"}, "encoding": {"text": {"field": "t"}}},
    {"width": 209, "height": 21, "view": {"fill": "#a9f5c6", "stroke": null}, "data": {"values": [{"t": "(k)"}]}, "mark": {"type": "text", "fontSize": 16, "color": "#222"}, "encoding": {"text": {"field": "t"}}},
    {"width": 209, "height": 21, "view": {"fill": "#a9f5c6", "stroke": null}, "data": {"values": [{"t": "(l)"}]}, "mark": {"type": "text", "fontSize": 16, "color": "#222"}, "encoding": {"text": {"field": "t"}}}
   ], "columns": 6, "spacing": {"row": 0, "column": 8}, "bounds": "flush"},
   {"width": 1294, "height": 46, "data": {"values": [{"t": "H₂ blend ratio (% vol.)", "n": "* Emission density: 1 MMBtu"}]},
    "layer": [
     {"mark": {"type": "text", "fontSize": 21.5, "fontWeight": "bold", "color": "#111", "dy": 9}, "encoding": {"text": {"field": "t"}}},
     {"mark": {"type": "text", "fontSize": 19, "fontWeight": "bold", "color": "#111", "align": "left", "baseline": "top", "dx": 338, "dy": 13, "clip": true}, "encoding": {"text": {"field": "n"}}}
    ]}
  ], "spacing": 0, "bounds": "full"}
 ], "spacing": 2, "bounds": "full"}
]
}
